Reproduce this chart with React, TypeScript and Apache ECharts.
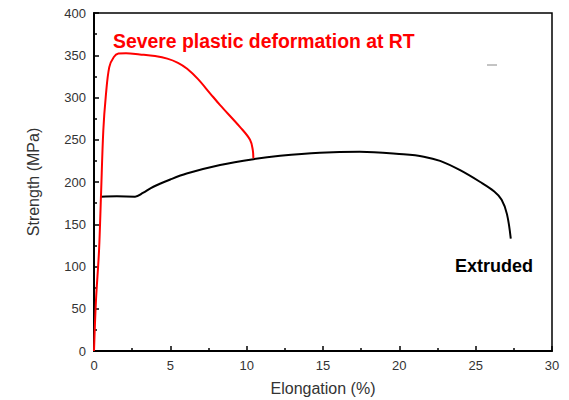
import React, { useEffect, useRef } from "react";
import * as echarts from "echarts";

const redX = [0, 0.13, 0.33, 0.46, 0.61, 0.77, 1.0, 1.3, 1.6, 2.1, 3.0, 4.0, 4.8, 5.5, 6.1, 6.8, 7.6, 8.26, 9.57, 10.22, 10.4, 10.44];
const redY = [0, 60, 119, 185, 261, 301, 336, 348, 352, 352.5, 351, 349, 346, 341, 334, 322, 305, 291, 265, 250, 238, 228];

const blackX = [0.45, 1.5, 2.69, 3.2, 3.89, 5.0, 6.07, 8.26, 10.44, 12.19, 14.8, 17.4, 20.27, 21.6, 22.67, 23.98, 25.3, 26.2, 26.7, 27.05, 27.3];
const blackY = [182.5, 183, 182.6, 187, 194.4, 203, 210, 220, 227, 231, 234.7, 235.9, 232.7, 230, 225, 214, 200, 189, 179, 162, 133];

const xTicks = [0, 5, 10, 15, 20, 25, 30];
const yTicks = [0, 50, 100, 150, 200, 250, 300, 350, 400];

const redLabel = "Severe plastic deformation at RT";
const blackLabel = "Extruded";

export default function App() {
  const ref = useRef<HTMLDivElement>(null);
  useEffect(() => {
    document.body.style.margin = "0";
    const chart = echarts.init(ref.current!, null, { renderer: "svg" });
    const font = "Liberation Sans, Arial, sans-serif";
    chart.setOption({
      animation: false,
      grid: { left: 94, right: 17, top: 13, bottom: 49, show: true, borderColor: "#000", borderWidth: 1.5, outerBoundsMode: "none" },
      xAxis: {
        type: "value",
        min: xTicks[0],
        max: xTicks[xTicks.length - 1],
        interval: 5,
        name: "Elongation (%)",
        nameLocation: "middle",
        nameGap: 29,
        nameTextStyle: { fontSize: 16, color: "#333", fontFamily: font },
        axisLine: { lineStyle: { color: "#000", width: 2 } },
        axisTick: { inside: true, length: 5, lineStyle: { color: "#000", width: 1.5 } },
        minorTick: { show: true, splitNumber: 2, length: 3, lineStyle: { color: "#000", width: 1.5 } },
        splitLine: { show: false },
        axisLabel: { fontSize: 13, color: "#333", margin: 8, fontFamily: font },
      },
      yAxis: {
        type: "value",
        min: yTicks[0],
        max: yTicks[yTicks.length - 1],
        interval: 50,
        name: "Strength (MPa)",
        nameLocation: "middle",
        nameGap: 53,
        nameTextStyle: { fontSize: 16, color: "#333", fontFamily: font },
        axisLine: { show: true, lineStyle: { color: "#000", width: 2 } },
        axisTick: { show: true, inside: true, length: 5, lineStyle: { color: "#000", width: 1.5 } },
        minorTick: { show: true, splitNumber: 2, length: 3, lineStyle: { color: "#000", width: 1.5 } },
        splitLine: { show: false },
        axisLabel: { fontSize: 13, color: "#333", margin: 8, fontFamily: font },
      },
      series: [
        {
          type: "line",
          data: blackX.map((x, i) => [x, blackY[i]]),
          showSymbol: false,
          smooth: 0.35,
          lineStyle: { color: "#000", width: 2 },
          z: 2,
        },
        {
          type: "line",
          data: redX.map((x, i) => [x, redY[i]]),
          showSymbol: false,
          smooth: 0.35,
          lineStyle: { color: "#ff0000", width: 2 },
          z: 3,
        },
      ],
      graphic: [
        {
          type: "text",
          left: 113,
          top: 31,
          style: { text: redLabel, fill: "#ff0000", font: `bold 19.4px ${font}` },
        },
        {
          type: "text",
          left: 455,
          top: 257,
          style: { text: blackLabel, fill: "#000", font: `bold 18px ${font}` },
        },
        {
          type: "line",
          shape: { x1: 487, y1: 65, x2: 497, y2: 65 },
          style: { stroke: "#888", lineWidth: 1 },
        },
      ],
    });
    return () => chart.dispose();
  }, []);
  return <div ref={ref} style={{ width: 569, height: 400 }} />;
}
